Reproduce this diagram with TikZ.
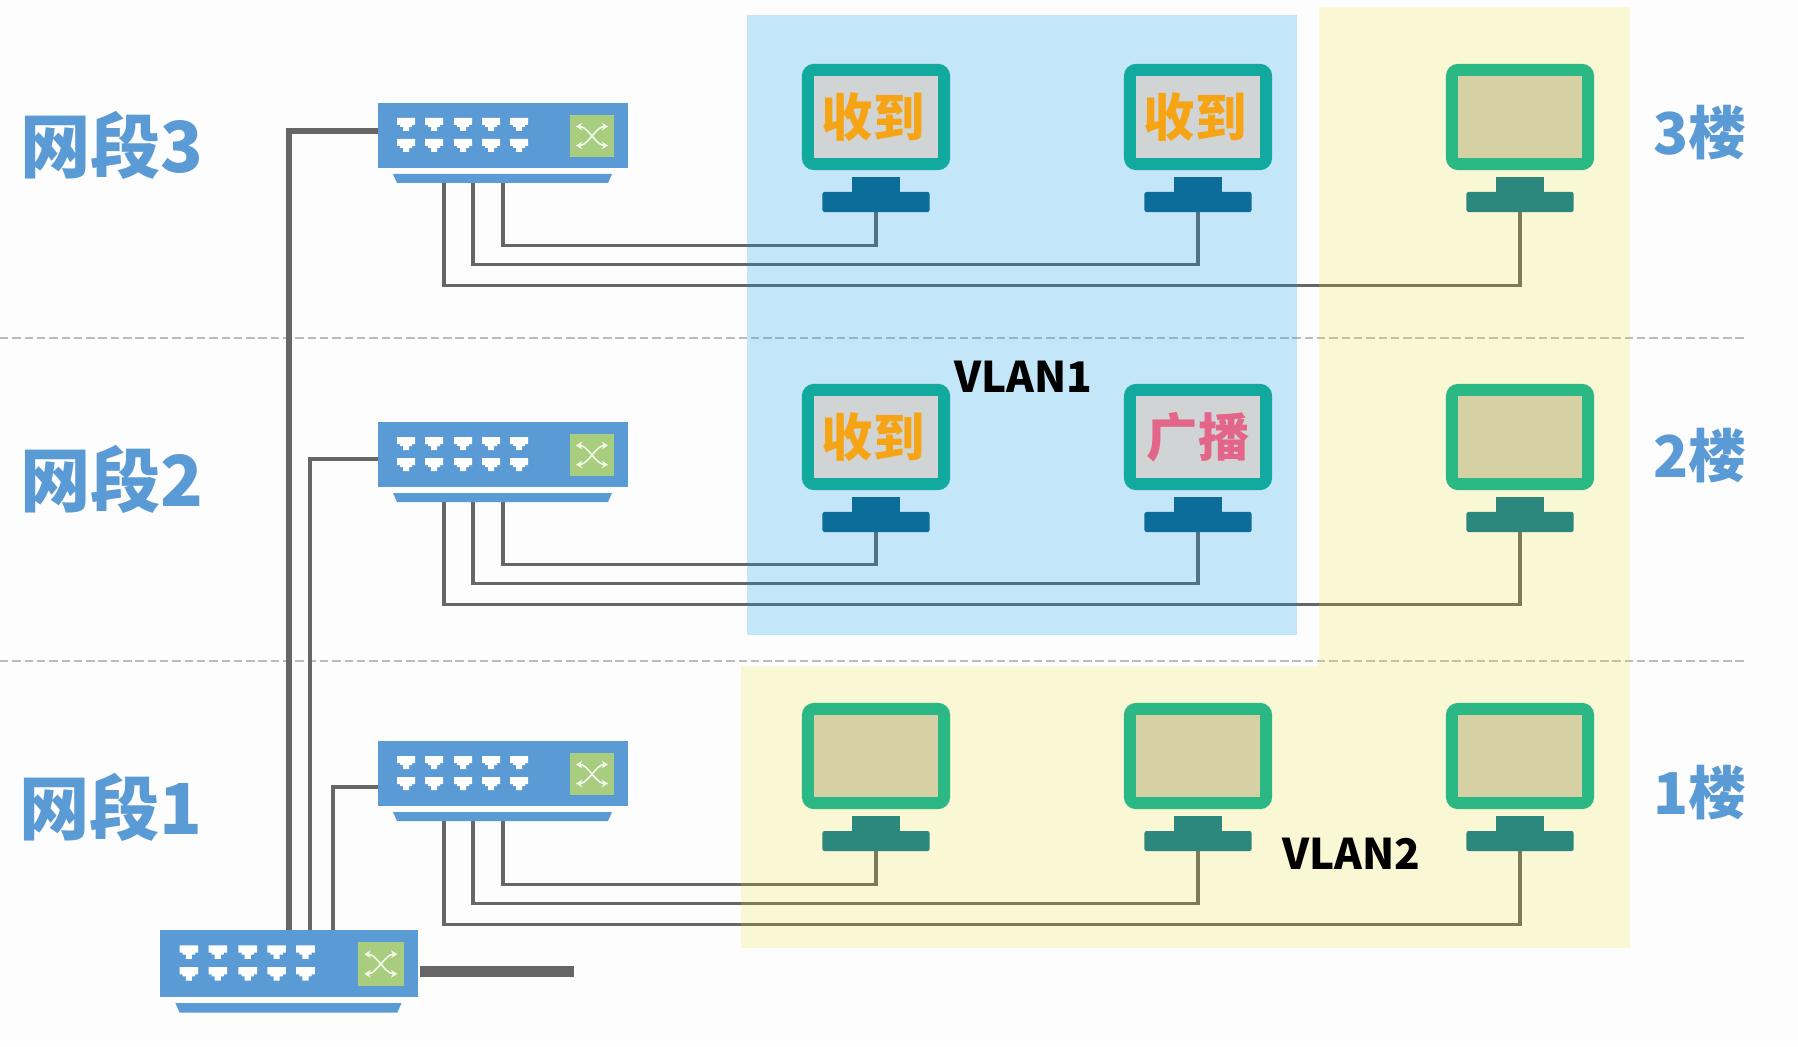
\documentclass[tikz,border=0pt]{standalone}
\usepackage{xcolor}
\usepackage{fontspec}
\setmainfont{Noto Sans CJK SC}
\usetikzlibrary{positioning,arrows.meta}

\definecolor{pagebg}{HTML}{FDFDFD}
\definecolor{netblue}{HTML}{5B9BD5}
\definecolor{netgreen}{HTML}{A9CD7F}
\definecolor{wiregray}{HTML}{666666}
\definecolor{dashgray}{HTML}{BBBBBB}
\definecolor{panelb}{RGB}{9,157,239}
\definecolor{panely}{RGB}{241,223,18}
\definecolor{frameb}{HTML}{12AA9E}
\definecolor{frameg}{HTML}{2CB884}
\definecolor{screenb}{HTML}{D0D4D4}
\definecolor{screeng}{HTML}{D6D1A4}
\definecolor{standb}{HTML}{0C6D9A}
\definecolor{standg}{HTML}{2C877C}
\definecolor{recv}{HTML}{F7A414}
\definecolor{bcast}{HTML}{E4658A}

\pgfdeclarelayer{ground}
\pgfdeclarelayer{wires}
\pgfdeclarelayer{panels}
\pgfsetlayers{ground,wires,panels,main}

\newcommand{\recvtext}{\hspace*{-0.06cm}收到}

\tikzset{
    monframe/.style={rectangle, line width=0.12cm, rounded corners=0.06cm, minimum width=1.36cm, minimum height=0.94cm, inner sep=0pt, outer sep=0pt, font=\bfseries\fontsize{14.6}{15}\selectfont},
    monneck/.style={rectangle, minimum width=0.48cm, minimum height=0.15cm, inner sep=0pt, outer sep=0pt},
    monbase/.style={rectangle, rounded corners=0.02cm, minimum width=1.07cm, minimum height=0.20cm, inner sep=0pt, outer sep=0pt},
    swbody/.style={rectangle, fill=netblue, minimum width=2.50cm, minimum height=0.65cm, inner sep=0pt, outer sep=0pt, transform shape},
    swicon/.style={rectangle, fill=netgreen, minimum width=0.44cm, minimum height=0.42cm, inner sep=0pt, outer sep=0pt, transform shape},
    swarrow/.style={draw=white!85!netgreen, line width=0.45pt, {Stealth[length=1.8pt,width=2.2pt]}-{Stealth[length=1.8pt,width=2.2pt]}},
    wirethin/.style={draw=wiregray, line width=1pt},
    wireup/.style={draw=wiregray, line width=1.3pt},
    wirestub/.style={draw=wiregray, line width=0.11cm},
    floorline/.style={draw=dashgray, line width=0.7pt, dash pattern=on 2.4pt off 1.1pt},
    seglabel/.style={text=netblue, font=\bfseries\fontsize{20}{20}\selectfont, inner sep=0pt},
    floorlabel/.style={text=netblue, font=\bfseries\fontsize{16.4}{18}\selectfont, inner sep=0pt},
    vlanlabel/.style={text=black, font=\bfseries\fontsize{12}{14}\selectfont, inner sep=0pt},
    netswitch/.pic={
        \node[swbody] (body) at (0,0) {};
        \fill[netblue] (-110,38.5) -- (109,38.5) -- (105,47.5) -- (-106,47.5) -- cycle;
        \node[swicon] (icon) at (89,0.5) {};
        \foreach \px in {-97,-69,-40,-12,16}
            \foreach \py in {-11.5,9.5}
                \fill[white, shift={(\px,\py)}] (-9,-6) -- (9,-6) -- (9,1) -- (6,1) -- (6,3) -- (3,3) -- (3,7) -- (-3,7) -- (-3,3) -- (-6,3) -- (-6,1) -- (-9,1) -- cycle;
        \draw[swarrow] (73,-9) .. controls (85,-9) and (93,10) .. (105,10);
        \draw[swarrow] (73,10) .. controls (85,10) and (93,-9) .. (105,-9);
        \coordinate (porta) at (0,47);
        \coordinate (portb) at (-30,47);
        \coordinate (portc) at (-59,47);
    }
}

\begin{document}
\begin{tikzpicture}[x=0.01cm, y=-0.01cm]
    \useasboundingbox (0,0) rectangle (1798,1046);

    % monitors
    \foreach \n/\x/\y/\k/\c/\t in {a3/876/0/b/recv/\recvtext, b3/1198/0/b/recv/\recvtext, c3/1520/0/g/recv/{},
                                   a2/876/320/b/recv/\recvtext, b2/1198/320/b/bcast/广播, c2/1520/320/g/recv/{},
                                   a1/876/639/g/recv/{}, b1/1198/639/g/recv/{}, c1/1520/639/g/recv/{}} {
        \node[monframe, draw=frame\k, fill=screen\k, text=\c] (\n-frame) at (\x,117+\y) {\t};
        \node[monneck, fill=stand\k] (\n-neck) at (\x,184.5+\y) {};
        \node[monbase, fill=stand\k] (\n-base) at (\x,202+\y) {};
    }

    % switches
    \pic (s3) at (503,135.5) {netswitch};
    \pic (s2) at (503,454.5) {netswitch};
    \pic (s1) at (503,773.5) {netswitch};
    \pic[scale=1.032] (s0) at (289,963.5) {netswitch};

    % uplink ends
    \coordinate (link3) at (378,131);
    \coordinate (link2) at (378,459);
    \coordinate (link1) at (378,787);
    \coordinate (upa) at (289,930);
    \coordinate (upb) at (310,930);
    \coordinate (upc) at (333,930);
    \coordinate (stubin) at (420,971.5);
    \coordinate (stubout) at (574,971.5);
    \coordinate (rule3w) at (0,338);
    \coordinate (rule3e) at (1746,338);
    \coordinate (rule2w) at (0,661);
    \coordinate (rule2e) at (1746,661);

    \begin{pgfonlayer}{ground}
        \fill[pagebg] (0,0) rectangle (1798,1046);
    \end{pgfonlayer}

    \begin{pgfonlayer}{wires}
        \draw[floorline] (rule3w) -- (rule3e);
        \draw[floorline] (rule2w) -- (rule2e);
        \foreach \r/\e in {3/0,2/0,1/1} {
            \draw[wirethin] (s\r porta) -- ++(0,63+\e) -| (a\r-base.south);
            \draw[wirethin] (s\r portb) -- ++(0,82+\e) -| (b\r-base.south);
            \draw[wirethin] (s\r portc) -- ++(0,103+\e) -| (c\r-base.south);
        }
        \draw[wireup, line width=1.5pt] (link3) -| (upa);
        \draw[wireup] (link2) -| (upb);
        \draw[wireup] (link1) -| (upc);
        \draw[wirestub] (stubin) -- (stubout);
    \end{pgfonlayer}

    \begin{pgfonlayer}{panels}
        \fill[panelb, fill opacity=0.23] (747,15) rectangle (1297,635);
        \fill[panely, fill opacity=0.17] (741,666) -- (1319,666) -- (1319,7) -- (1630,7) -- (1630,948) -- (741,948) -- cycle;
    \end{pgfonlayer}

    % labels
    \node[seglabel] (seg3) at (112,145) {网段3};
    \node[seglabel] (seg2) at (112,479) {网段2};
    \node[seglabel] (seg1) at (111,807) {网段1};
    \node[floorlabel] (floor3) at (1700,133) {3楼};
    \node[floorlabel] (floor2) at (1700,456) {2楼};
    \node[floorlabel] (floor1) at (1700,793) {1楼};
    \node[vlanlabel] (vlan1) at (1023,377) {VLAN1};
    \node[vlanlabel] (vlan2) at (1351,854) {VLAN2};
\end{tikzpicture}
\end{document}
